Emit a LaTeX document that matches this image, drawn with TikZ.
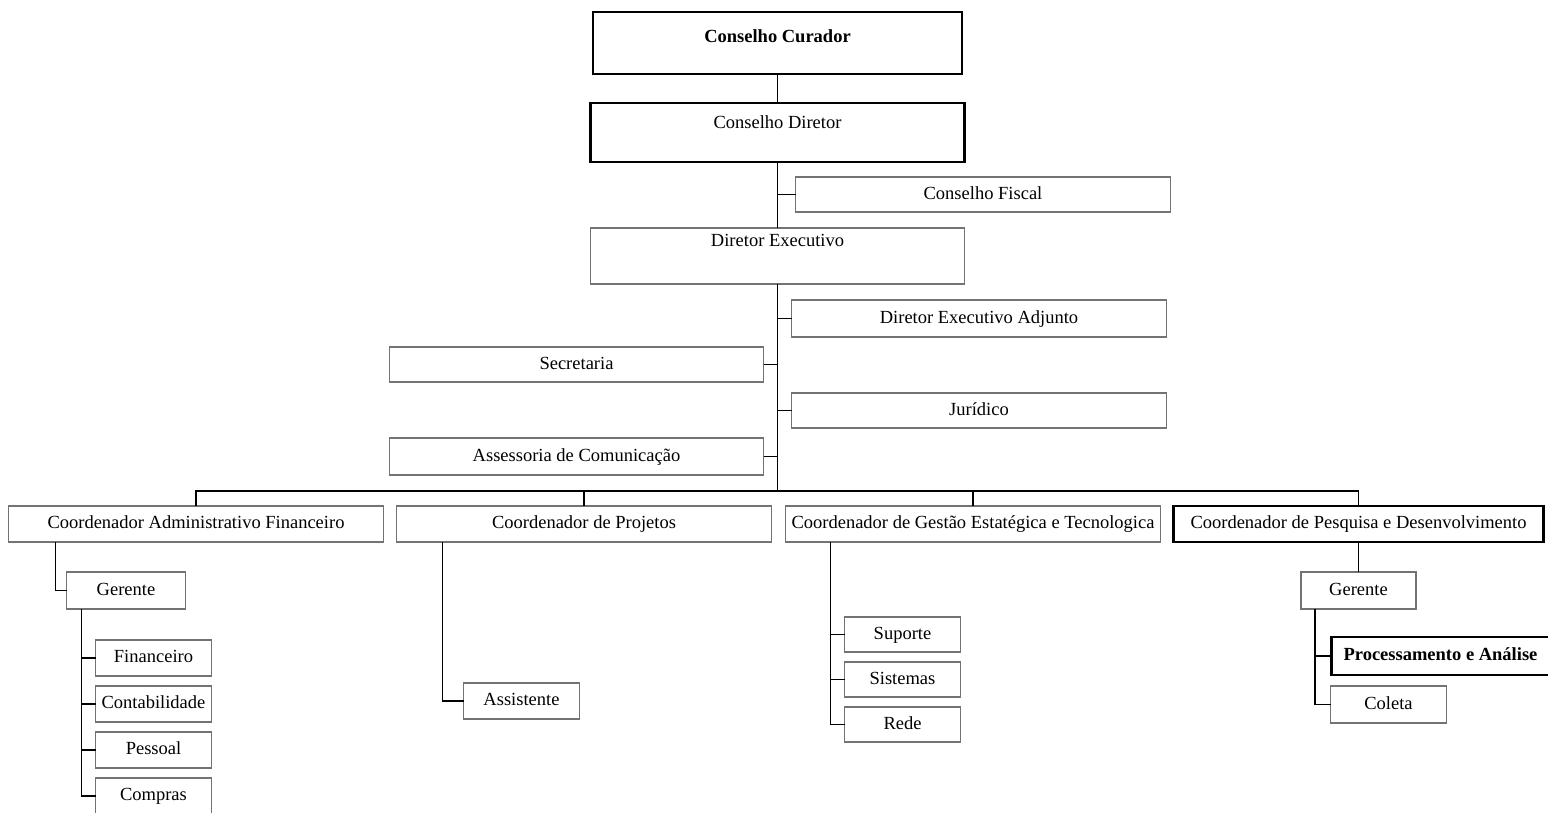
\documentclass[tikz,border=0pt]{standalone}
\usepackage{fontspec}
\setmainfont{Liberation Serif}
\usetikzlibrary{positioning}
\newcommand{\orgfont}{\fontsize{18.5}{20}\selectfont}
\tikzstyle{org_box} = [rectangle, draw=black!55, line width=1.6pt, fill=white, text centered, inner sep=0pt, outer sep=0pt, text height=13pt, text depth=4pt, font=\orgfont]
\tikzstyle{board_box} = [org_box, draw=black, line width=2.4pt]
\tikzstyle{unit_box} = [org_box, minimum width=116pt, minimum height=36pt]
\tikzstyle{org_line} = [line width=1.8pt]

\begin{document}
\begin{tikzpicture}[x=1pt, y=1pt, node distance=10pt]
\useasboundingbox (0,0) rectangle (1548,-812);

\node (curador) [board_box, minimum width=369pt, minimum height=62pt, text depth=14pt, font=\orgfont\bfseries] at (777.5,-43) {Conselho Curador};
\node (diretor) [board_box, minimum width=374pt, minimum height=59pt, text depth=21pt, below=29pt of curador] {Conselho Diretor};
\node (fiscal) [org_box, minimum width=375pt, minimum height=35pt, below=15pt of diretor, xshift=205.5pt] {Conselho Fiscal};
\node (executivo) [org_box, minimum width=374pt, minimum height=56pt, text depth=32pt, below=66pt of diretor] {Diretor Executivo};
\node (adjunto) [org_box, minimum width=375pt, minimum height=37pt, below=16pt of executivo, xshift=201.5pt] {Diretor Executivo Adjunto};
\node (secretaria) [org_box, minimum width=374pt, minimum height=35pt, below=63pt of executivo, xshift=-201pt] {Secretaria};
\node (juridico) [org_box, minimum width=375pt, minimum height=35pt, below=56pt of adjunto] {Jurídico};
\node (assessoria) [org_box, minimum width=374pt, minimum height=37pt, below=56pt of secretaria] {Assessoria de Comunicação};
\coordinate [below=207pt of executivo] (hub);

% Coordenadores
\node (adm) [org_box, minimum width=375pt, minimum height=36pt, below=31pt of assessoria, xshift=-380.5pt] {Coordenador Administrativo Financeiro};
\node (projetos) [org_box, minimum width=375pt, minimum height=36pt, right=13pt of adm] {Coordenador de Projetos};
\node (gestao) [org_box, minimum width=375pt, minimum height=36pt, right=14pt of projetos] {Coordenador de Gestão Estatégica e Tecnologica};
\node (pesquisa) [board_box, minimum width=370pt, minimum height=36pt, right=13pt of gestao] {Coordenador de Pesquisa e Desenvolvimento};

\node (gerente_adm) [unit_box, minimum width=119pt, minimum height=37pt, below=30pt of adm, xshift=-70pt] {Gerente};
\node (financeiro) [unit_box, below=31pt of gerente_adm, xshift=27.5pt] {Financeiro};
\node (contabilidade) [unit_box, below=of financeiro] {Contabilidade};
\node (pessoal) [unit_box, below=of contabilidade] {Pessoal};
\node (compras) [unit_box, below=of pessoal] {Compras};

\node (assistente) [unit_box, below=141pt of projetos, xshift=-62.5pt] {Assistente};

\node (suporte) [unit_box, minimum height=35pt, below=75pt of gestao, xshift=-70.5pt] {Suporte};
\node (sistemas) [unit_box, minimum height=35pt, below=of suporte] {Sistemas};
\node (rede) [unit_box, minimum height=35pt, below=of sistemas] {Rede};

\node (gerente_pesq) [unit_box, minimum width=115pt, minimum height=37pt, below=30pt of pesquisa] {Gerente};
\node (processamento) [board_box, minimum width=218pt, minimum height=38pt, below=28pt of gerente_pesq, xshift=82pt, font=\orgfont\bfseries] {Processamento e Análise};
\node (coleta) [unit_box, minimum height=37pt, below=11pt of processamento, xshift=-52pt] {Coleta};

% Linhas de subordinacao
\draw [org_line] (curador) -- (diretor);
\draw [org_line] (diretor) -- (executivo);
\draw [org_line] (fiscal.west) -- (fiscal.west -| diretor.south);
\draw [org_line] (executivo.south) -- (hub);
\foreach \n in {adjunto, juridico}
  \draw [org_line] (\n.west) -- (\n.west -| hub);
\foreach \n in {secretaria, assessoria}
  \draw [org_line] (\n.east) -- (\n.east -| hub);
\draw [org_line] (adm.north) |- (hub) -| (pesquisa.north);
\draw [org_line] (projetos.north) -- (projetos.north |- hub);
\draw [org_line] (gestao.north) -- (gestao.north |- hub);

\draw [org_line] (gerente_adm.west) -| ([xshift=47pt]adm.south west);
\coordinate (adm_stem) at ([xshift=15pt]gerente_adm.south west);
\draw [org_line] (adm_stem) |- (compras.west);
\foreach \n in {financeiro, contabilidade, pessoal}
  \draw [org_line] (\n.west) -- (\n.west -| adm_stem);

\draw [org_line] ([xshift=46pt]projetos.south west) |- (assistente.west);

\coordinate (gestao_stem) at ([xshift=45pt]gestao.south west);
\draw [org_line] (gestao_stem) |- (rede.west);
\foreach \n in {suporte, sistemas}
  \draw [org_line] (\n.west) -- (\n.west -| gestao_stem);

\draw [org_line] (pesquisa.south) -- (pesquisa.south |- gerente_pesq.north);
\coordinate (pesq_stem) at ([xshift=14pt]gerente_pesq.south west);
\draw [org_line] (pesq_stem) |- (coleta.west);
\draw [org_line] (processamento.west) -- (processamento.west -| pesq_stem);
\end{tikzpicture}
\end{document}
